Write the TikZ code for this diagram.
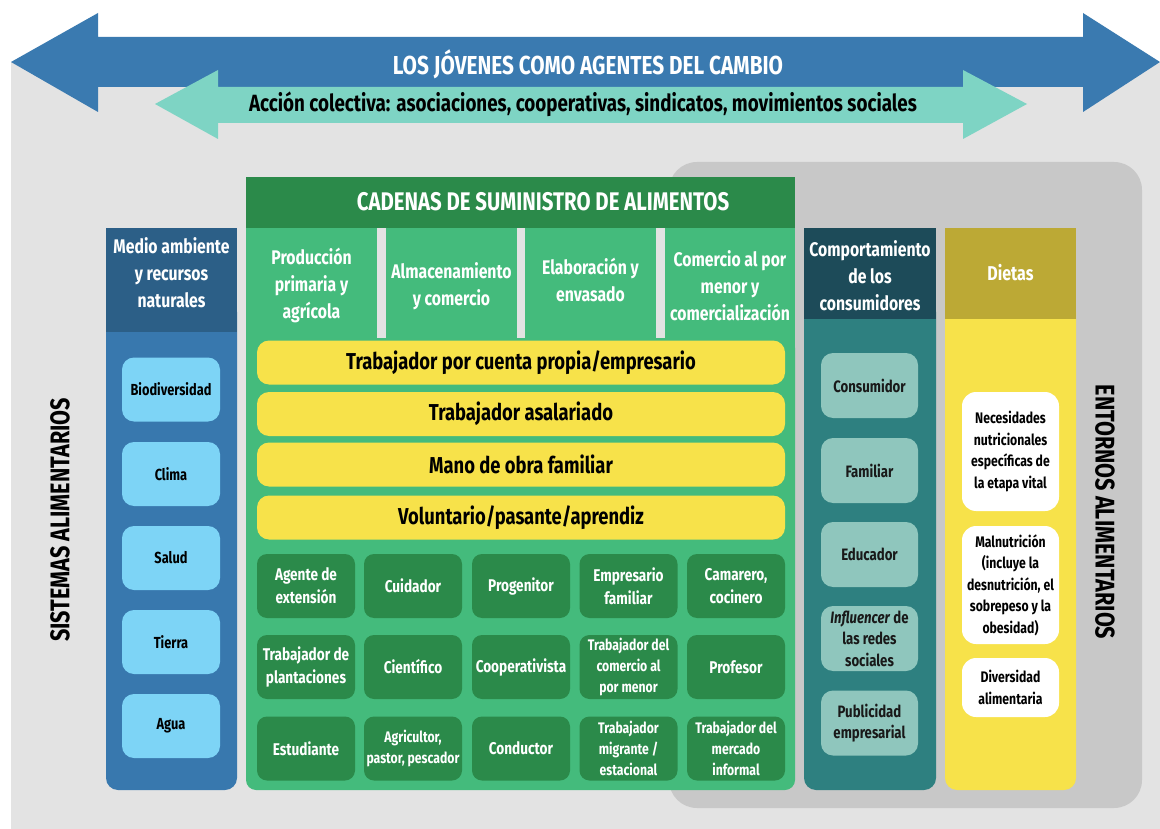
\documentclass[tikz,border=0pt]{standalone}
\usepackage{fontspec}
\newfontfamily\cf{Fira Sans}[FakeStretch=0.8]
\newcommand{\fsz}[2]{\fontsize{#1}{#2}\selectfont}
\definecolor{bggrey}{HTML}{E3E3E3}
\definecolor{boxgrey}{HTML}{C8C8C8}
\definecolor{arrblue}{HTML}{3A7AB0}
\definecolor{arrteal}{HTML}{7ED4C4}
\definecolor{dgreen}{HTML}{2B8A4A}
\definecolor{mgreen}{HTML}{44BB7C}
\definecolor{yelbar}{HTML}{F7E24A}
\definecolor{envhead}{HTML}{2C5F87}
\definecolor{envbody}{HTML}{3878AE}
\definecolor{envbox}{HTML}{7DD4F6}
\definecolor{conhead}{HTML}{1D4B59}
\definecolor{conbody}{HTML}{2E8080}
\definecolor{conbox}{HTML}{8FC6BD}
\definecolor{diethead}{HTML}{BCA935}
\tikzset{
  base/.style={inner sep=0pt, outer sep=0pt, align=center, font=\cf\bfseries},
  colhead/.style={base, text=white, font=\cf\bfseries\fsz{19.7}{27}},
  ybox/.style={base, fill=yelbar, rounded corners=12pt, minimum width=528pt, minimum height=44pt, font=\cf\bfseries\fsz{23}{26}},
  rolebox/.style={base, fill=dgreen, rounded corners=10pt, minimum width=98pt, minimum height=64pt, text=white, font=\cf\bfseries\fsz{17}{23}},
  rolesmall/.style={rolebox, font=\cf\bfseries\fsz{15.3}{21}},
  envitem/.style={base, fill=envbox, rounded corners=12pt, minimum width=98pt, minimum height=64pt, font=\cf\bfseries\fsz{16}{21}},
  conitem/.style={base, fill=conbox, rounded corners=12pt, minimum width=97pt, minimum height=65pt, text=black!90, font=\cf\bfseries\fsz{16.5}{21.5}},
  dietitem/.style={base, fill=white, rounded corners=14pt, minimum width=97pt, font=\cf\bfseries\fsz{15.3}{21.5}},
  sidetitle/.style={base, font=\cf\bfseries\fsz{27}{30}},
}
\begin{document}
\begin{tikzpicture}[x=1pt,y=-1pt]
\useasboundingbox (0,0) rectangle (1160,829);
\fill[white] (0,0) rectangle (1160,829);
\fill[bggrey] (11,62) rectangle (1160,829);
% rounded grey box for food environments
\fill[boxgrey, rounded corners=28pt] (669,162) rectangle (1142,808);
% big blue arrow
\fill[arrblue] (11,62) -- (98,13) -- (98,37) -- (1083,37) -- (1083,13) -- (1160,62)
  -- (1083,112) -- (1083,87) -- (98,87) -- (98,112) -- cycle;
\node[base, text=white, font=\cf\bfseries\fsz{26}{28}] (youth) at (588,64) {LOS JÓVENES COMO AGENTES DEL CAMBIO};
% teal arrow
\fill[arrteal] (155,104) -- (218,70) -- (218,87) -- (963,87) -- (963,70) -- (1027,104)
  -- (963,139) -- (963,123) -- (218,123) -- (218,139) -- cycle;
\node[base, font=\cf\bfseries\fsz{23.5}{26}] (collective) at (583,104) {Acción colectiva: asociaciones, cooperativas, sindicatos, movimientos sociales};
% side titles
\node[sidetitle, rotate=90] (sistemas) at (60,520) {SISTEMAS ALIMENTARIOS};
\node[sidetitle, rotate=-90] (entornos) at (1105,512) {ENTORNOS ALIMENTARIOS};
% environment column
\fill[envbody, rounded corners=12pt] (106,300) rectangle (237,790);
\fill[envhead] (106,228) rectangle (237,332);
\node[colhead] (envh) at (171.5,273) {Medio ambiente\\y recursos\\naturales};
\node[envitem] (bio) at (171,389.5) {Biodiversidad};
\node[envitem] (clima) at (171,474) {Clima};
\node[envitem] (salud) at (171,558) {Salud};
\node[envitem] (tierra) at (171,642) {Tierra};
\node[envitem] (agua) at (171,726) {Agua};
% supply chain
\fill[mgreen, rounded corners=10pt] (246,338) rectangle (795,790);
\fill[mgreen] (246,338) rectangle (795,360);
\fill[dgreen] (246,177) rectangle (795,228);
\node[base, text=white, font=\cf\bfseries\fsz{25.5}{30}] (chain) at (543,202) {CADENAS DE SUMINISTRO DE ALIMENTOS};
\fill[mgreen] (246,228) rectangle (377,340);
\fill[mgreen] (386,228) rectangle (517,340);
\fill[mgreen] (525,228) rectangle (656,340);
\fill[mgreen] (665,228) rectangle (795,340);
\node[colhead] (prod) at (311.5,285) {Producción\\primaria y\\agrícola};
\node[colhead] (alm) at (451.5,286) {Almacenamiento\\y comercio};
\node[colhead] (elab) at (590.5,280) {Elaboración y\\envasado};
\node[colhead] (comm) at (730,286) {Comercio al por\\menor y\\comercialización};
\node[ybox] (y1) at (521,362.5) {Trabajador por cuenta propia/empresario};
\node[ybox] (y2) at (521,414) {Trabajador asalariado};
\node[ybox] (y3) at (521,464.5) {Mano de obra familiar};
\node[ybox] (y4) at (521,517.5) {Voluntario/pasante/aprendiz};
\node[rolebox] (r11) at (306,586) {Agente de\\extensión};
\node[rolebox] (r12) at (413,586) {Cuidador};
\node[rolebox] (r13) at (521,586) {Progenitor};
\node[rolebox] (r14) at (628.5,586) {Empresario\\familiar};
\node[rolebox] (r15) at (736,586) {Camarero,\\cocinero};
\node[rolebox] (r21) at (306,667) {Trabajador de\\plantaciones};
\node[rolebox] (r22) at (413,667) {Científico};
\node[rolebox] (r23) at (521,667) {Cooperativista};
\node[rolesmall] (r24) at (628.5,667) {Trabajador del\\comercio al\\por menor};
\node[rolebox] (r25) at (736,667) {Profesor};
\node[rolebox] (r31) at (306,748.5) {Estudiante};
\node[rolesmall] (r32) at (413,748.5) {Agricultor,\\pastor, pescador};
\node[rolebox] (r33) at (521,748.5) {Conductor};
\node[rolesmall] (r34) at (628.5,748.5) {Trabajador\\migrante /\\estacional};
\node[rolesmall] (r35) at (736,748.5) {Trabajador del\\mercado\\informal};
% consumer behaviour column
\fill[conbody, rounded corners=12pt] (804,300) rectangle (936,790);
\fill[conhead] (804,228) rectangle (936,319);
\node[colhead] (conh) at (870,276) {Comportamiento\\de los\\consumidores};
\node[conitem] (consumidor) at (869.5,385.5) {Consumidor};
\node[conitem] (familiar) at (869.5,470.5) {Familiar};
\node[conitem] (educador) at (869.5,554.5) {Educador};
\node[conitem] (influ) at (869.5,638.5) {\textit{Influencer} de\\las redes\\sociales};
\node[conitem] (publi) at (869.5,723) {Publicidad\\empresarial};
% diets column
\fill[yelbar, rounded corners=12pt] (945,300) rectangle (1076,790);
\fill[diethead] (945,228) rectangle (1076,319);
\node[colhead, font=\cf\bfseries\fsz{20}{27}] (dieth) at (1010.5,273) {Dietas};
\node[dietitem, minimum height=119pt] (necesidades) at (1010.5,451.5) {Necesidades\\nutricionales\\específicas de\\la etapa vital};
\node[dietitem, minimum height=118pt] (malnut) at (1010.5,585) {Malnutrición\\(incluye la\\desnutrición, el\\sobrepeso y la\\obesidad)};
\node[dietitem, minimum height=59pt] (diversidad) at (1010.5,687.5) {Diversidad\\alimentaria};
\end{tikzpicture}
\end{document}
